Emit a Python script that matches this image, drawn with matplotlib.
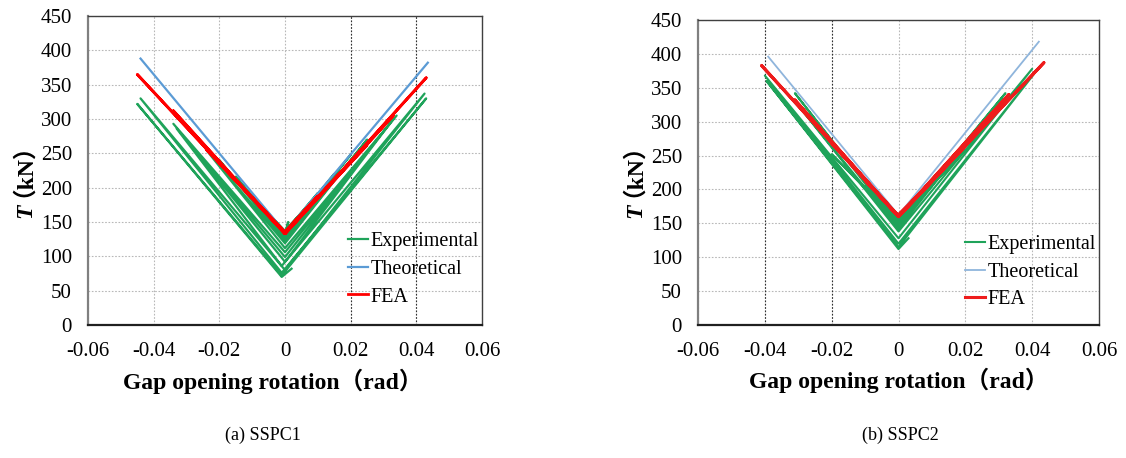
import numpy as np
import matplotlib.pyplot as plt
from matplotlib.ticker import FuncFormatter

# ---- SSPC1 ----
exp1_x = [0, 0.005, 0, -0.005, 0, 0.010, 0, -0.010, 0, 0.001, 0, 0.015, 0, -0.015, 0,
          0.020, 0, -0.020, 0, 0.025, 0, -0.024, 0, 0.034, 0, -0.034, 0,
          0.033, 0, -0.033, -0.001, 0.0425, 0, -0.044, -0.001, 0.043, -0.001,
          -0.045, -0.001, 0.002]
exp1_y = [138, 163, 137, 162, 136, 192, 135, 190, 133, 150, 132, 220, 131, 216, 129,
          248, 126, 240, 122, 270, 119, 255, 112, 305, 106, 293, 99,
          300, 92, 286, 86, 337, 80, 330, 76, 330, 72,
          322, 70, 82]
fea1_x = [0, 0.010, 0, -0.010, 0, 0.020, 0, -0.020, 0, 0.025, 0, -0.024, 0,
          0.033, 0, -0.034, 0, 0.043, 0, -0.045, 0]
fea1_y = [136, 188, 135, 186, 135, 238, 134, 236, 134, 262, 133, 256, 133,
          305, 133, 312, 133, 360, 133, 365, 134]
theo1_x = [-0.044, 0, 0.0435]
theo1_y = [388, 135, 382]

# ---- SSPC2 ----
exp2_x = [0, 0.010, 0, -0.010, 0, 0.020, 0, -0.020, 0, 0.032, 0, -0.031, 0,
          0.031, 0, -0.031, 0, 0.040, 0, -0.040, 0, 0.0405, 0, -0.0395, 0,
          0.003]
exp2_y = [160, 205, 158, 205, 156, 258, 154, 252, 151, 342, 148, 342, 145,
          335, 142, 330, 138, 378, 128, 368, 120, 370, 115, 360, 112,
          128]
fea2_x = [0, 0.010, 0, -0.010, 0, 0.020, 0, -0.020, 0, 0.033, 0, -0.031, 0,
          0.0435, 0, -0.041, 0]
fea2_y = [163, 212, 161, 213, 160, 264, 160, 268, 160, 340, 160, 332, 160,
          387, 160, 383, 161]
theo2_x = [-0.039, 0, 0.042]
theo2_y = [396, 162, 418]

xticks = [-0.06, -0.04, -0.02, 0, 0.02, 0.04, 0.06]
yticks = list(range(0, 451, 50))
captions = ["(a) SSPC1", "(b) SSPC2"]

plt.rcParams['font.family'] = ['Liberation Serif', 'Noto Sans CJK SC']
plt.rcParams['axes.unicode_minus'] = False

W, H = 1126, 458
fig = plt.figure(figsize=(W / 100, H / 100), dpi=100)
ax1 = fig.add_axes([88 / W, 1 - 325 / H, 394 / W, 309 / H])
ax2 = fig.add_axes([698 / W, 1 - 325 / H, 401 / W, 305 / H])


def setup(ax, dark_x, leg_anchor, ylab_x, xlab_pos):
    ax.set_xlim(-0.06, 0.06)
    ax.set_ylim(0, 450)
    ax.set_xticks(xticks)
    ax.set_yticks(yticks)
    ax.xaxis.set_major_formatter(FuncFormatter(lambda v, p: '0' if abs(v) < 1e-9 else f'{v:.2f}'))
    ax.tick_params(length=0, labelsize=15)
    ax.tick_params(axis='x', pad=12)
    ax.tick_params(axis='y', pad=11.5)
    ax.grid(True, color='#b8b8b8', linestyle=(0, (1.5, 1.5)), linewidth=0.8)
    for xv in dark_x:
        ax.axvline(xv, color='#303030', linestyle=(0, (1.5, 1.5)), linewidth=0.8, zorder=1)
    ax.set_axisbelow(True)
    ax.spines['left'].set_color('#808080')
    ax.spines['left'].set_linewidth(1.6)
    ax.spines['bottom'].set_color('#202020')
    ax.spines['bottom'].set_linewidth(1.6)
    for s in ['top', 'right']:
        ax.spines[s].set_color('#404040')
        ax.spines[s].set_linewidth(1.0)
    ax.set_xlabel('Gap opening rotation（rad）', fontsize=17, fontweight='bold')
    ax.xaxis.set_label_coords(xlab_pos, -0.14)
    # y label: bold italic T followed by （kN）; the CJK fallback sits lower, so nudge it
    fig.text(ylab_x / W, 1 - 204 / H, 'T', rotation=90, rotation_mode='anchor',
             ha='right', va='baseline', fontsize=17, fontweight='bold', fontstyle='italic')
    fig.text((ylab_x - 13) / W, 1 - 197 / H, '（kN）', rotation=90, rotation_mode='anchor',
             ha='left', va='baseline', fontsize=17, fontweight='bold')
    ax.legend(loc='upper left', bbox_to_anchor=leg_anchor, frameon=False, fontsize=14.5,
              handlelength=1.0, handletextpad=0.1, labelspacing=0.42, borderpad=0,
              borderaxespad=0)


ax1.plot(exp1_x, exp1_y, color='#1fa35a', lw=1.6, label='Experimental', zorder=3)
ax1.plot(theo1_x, theo1_y, color='#5b9bd5', lw=1.6, label='Theoretical', zorder=4)
ax1.plot(fea1_x, fea1_y, color='#ff0000', lw=2.0, label='FEA', zorder=5)
setup(ax1, [0.02, 0.04], (0.66, 0.30), 31, 0.47)

ax2.plot(exp2_x, exp2_y, color='#1fa35a', lw=1.5, label='Experimental', zorder=3)
ax2.plot(theo2_x, theo2_y, color='#8fb5dc', lw=1.3, label='Theoretical', zorder=4)
ax2.plot(fea2_x, fea2_y, color='#ee1c1c', lw=2.2, label='FEA', zorder=5)
setup(ax2, [-0.04, -0.02], (0.666, 0.295), 641, 0.5)

fig.text(263 / W, 1 - 435 / H, captions[0], ha='center', va='center', fontsize=13)
fig.text(900 / W, 1 - 435 / H, captions[1], ha='center', va='center', fontsize=13)

fig.savefig('out.png', dpi=100)
